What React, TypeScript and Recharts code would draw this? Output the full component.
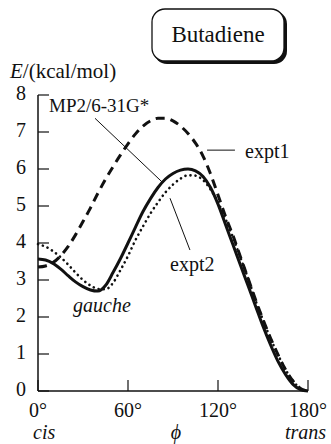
import { LineChart, Line, XAxis, YAxis, ReferenceLine } from "recharts"

// torsion angle phi (deg), energies in kcal/mol
const phi = [0, 5, 10, 15, 20, 25, 30, 35, 40, 45, 50, 55, 60, 65, 70, 75, 80, 85, 90,
  95, 100, 105, 110, 115, 120, 125, 130, 135, 140, 145, 150, 155, 160, 165, 170, 175, 180]
const mp2 = [3.57, 3.54, 3.45, 3.3, 3.12, 2.95, 2.82, 2.73, 2.7, 2.85, 3.2, 3.58, 4.0, 4.43, 4.85, 5.2, 5.5, 5.73, 5.88,
  5.97, 6.0, 5.95, 5.8, 5.5, 5.05, 4.5, 3.95, 3.4, 2.85, 2.3, 1.75, 1.25, 0.8, 0.45, 0.18, 0.04, 0]
const expt1 = [3.35, 3.38, 3.47, 3.65, 3.9, 4.22, 4.58, 4.95, 5.35, 5.72, 6.06, 6.38, 6.68, 6.95, 7.16, 7.3, 7.37, 7.37, 7.3,
  7.16, 6.96, 6.7, 6.35, 5.87, 5.3, 4.72, 4.2, 3.62, 3.05, 2.47, 1.93, 1.43, 0.98, 0.58, 0.27, 0.07, 0]
const expt2 = [3.97, 3.9, 3.78, 3.62, 3.42, 3.2, 3.0, 2.85, 2.76, 2.75, 2.92, 3.27, 3.65, 4.08, 4.45, 4.8, 5.1, 5.37, 5.58,
  5.74, 5.83, 5.82, 5.7, 5.45, 5.1, 4.65, 4.15, 3.6, 3.05, 2.45, 1.92, 1.42, 0.98, 0.58, 0.27, 0.07, 0]

const xTicks = [0, 60, 120, 180]
const yTicks = [0, 1, 2, 3, 4, 5, 6, 7, 8]

const data = phi.map((p, i) => ({ phi: p, mp2: mp2[i], expt1: expt1[i], expt2: expt2[i] }))

const font = "'Liberation Serif', 'DejaVu Serif', serif"
const ink = "#111"

// ticks point into the plot, labels sit outside
const XTick = (props: any) => {
  const { x, y, payload } = props
  return (
    <g>
      <line x1={x} y1={y} x2={x} y2={y - 11} stroke={ink} strokeWidth={1.2} />
      <text x={x} y={y + 26} textAnchor="middle" fontSize={20} style={{ fontFamily: font }} fill={ink}>
        {payload.value}°
      </text>
    </g>
  )
}

const YTick = (props: any) => {
  const { x, y, payload } = props
  return (
    <g>
      <line x1={x} y1={y} x2={x + 11} y2={y} stroke={ink} strokeWidth={1.2} />
      <text x={x - 12} y={y + 5} textAnchor="end" fontSize={20} style={{ fontFamily: font }} fill={ink}>
        {payload.value}
      </text>
    </g>
  )
}

export default function App() {
  return (
    <div style={{ position: "absolute", left: 0, top: 0, width: 331, height: 444, background: "#fff" }}>
      <LineChart width={331} height={444} data={data}
        margin={{ top: 95, right: 23, bottom: 23, left: 8 }}>
        <XAxis dataKey="phi" type="number" domain={[0, 180]} ticks={xTicks} interval={0}
          height={30} tickSize={0} tickMargin={0} tickLine={false}
          stroke={ink} strokeWidth={1.5} tick={<XTick />} />
        <YAxis type="number" domain={[0, 8]} ticks={yTicks} interval={0}
          width={30} tickSize={0} tickMargin={0} tickLine={false}
          stroke={ink} strokeWidth={1.5} tick={<YTick />} />
        <Line dataKey="expt1" type="monotone" stroke={ink} strokeWidth={3}
          strokeDasharray="9 6" dot={false} isAnimationActive={false} />
        <Line dataKey="expt2" type="monotone" stroke={ink} strokeWidth={2.6}
          strokeDasharray="0.1 5" strokeLinecap="round" dot={false} isAnimationActive={false} />
        <Line dataKey="mp2" type="monotone" stroke={ink} strokeWidth={3}
          dot={false} isAnimationActive={false} />
        {/* leader lines to the labels */}
        <ReferenceLine segment={[{ x: 38, y: 7.37 }, { x: 82.7, y: 5.65 }]} stroke={ink} strokeWidth={1} />
        <ReferenceLine segment={[{ x: 112.7, y: 6.51 }, { x: 131.3, y: 6.51 }]} stroke={ink} strokeWidth={1} />
        <ReferenceLine segment={[{ x: 88, y: 5.21 }, { x: 101.3, y: 3.81 }]} stroke={ink} strokeWidth={1} />
      </LineChart>

      <svg width={331} height={444} style={{ position: "absolute", left: 0, top: 0, pointerEvents: "none", fontFamily: font }}
        fill={ink}>
        <rect x={154} y={11} width={133} height={53} rx={13} fill={ink} />
        <rect x={152} y={9} width={132} height={52} rx={13} fill="#fff" stroke={ink} strokeWidth={1.3} />
        <text x={218} y={42} fontSize={23} textAnchor="middle">Butadiene</text>
        <text x={10} y={78} fontSize={21}><tspan fontStyle="italic">E</tspan>/(kcal/mol)</text>
        <text x={49} y={112} fontSize={19}>MP2/6-31G*</text>
        <text x={245} y={158} fontSize={20}>expt1</text>
        <text x={170} y={271} fontSize={20}>expt2</text>
        <text x={73} y={312} fontSize={20} fontStyle="italic">gauche</text>
        <text x={33} y={439} fontSize={20} fontStyle="italic">cis</text>
        <text x={176} y={439} fontSize={20} fontStyle="italic" textAnchor="middle">ϕ</text>
        <text x={326} y={439} fontSize={20} fontStyle="italic" textAnchor="end">trans</text>
      </svg>
    </div>
  )
}
